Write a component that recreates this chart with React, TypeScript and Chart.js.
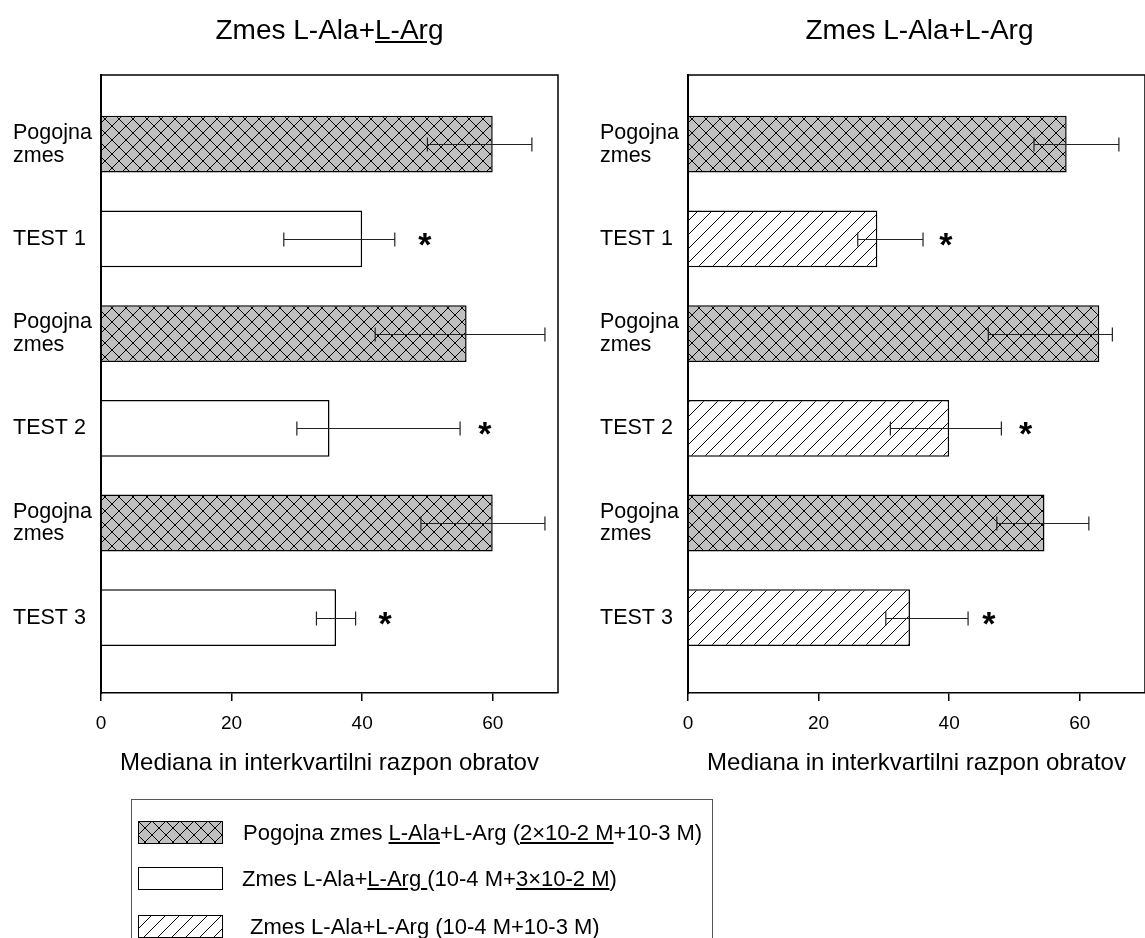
import React, { useEffect, useRef } from 'react';
import { Chart, registerables } from 'chart.js';

Chart.register(...registerables);

const FONT = "'Liberation Sans', Arial, sans-serif";

// ---- data ----
const yLabels: string[][] = [
  ['Pogojna', 'zmes'],
  ['TEST 1'],
  ['Pogojna', 'zmes'],
  ['TEST 2'],
  ['Pogojna', 'zmes'],
  ['TEST 3'],
];
const barKinds = ['control', 'test', 'control', 'test', 'control', 'test'];
const xTickValues = [0, 20, 40, 60];
const xMax = 70;
const yMin = -0.7307;
const yMax = 5.795;

const leftMedian = [60, 40, 56, 35, 60, 36];
const leftLow = [50, 28, 42, 30, 49, 33];
const leftHigh = [66, 45, 68, 55, 68, 39];
const leftStar: (number | null)[] = [null, 49.6, null, 58.8, null, 43.5];

const rightMedian = [58, 29, 63, 40, 54.6, 34];
const rightLow = [53, 26, 46, 31, 47.3, 30.3];
const rightHigh = [66, 36, 65, 48, 61.4, 42.9];
const rightStar: (number | null)[] = [null, 39.5, null, 51.7, null, 46.1];

const axisTitle = 'Mediana in interkvartilni razpon obratov';

// ---- patterns ----
function crossTile(): HTMLCanvasElement {
  const c = document.createElement('canvas');
  c.width = 14; c.height = 14;
  const g = c.getContext('2d')!;
  g.fillStyle = '#c0c0c0';
  g.fillRect(0, 0, 14, 14);
  g.strokeStyle = '#000';
  g.lineWidth = 1;
  g.beginPath();
  g.moveTo(-1, -1); g.lineTo(15, 15);
  g.moveTo(15, -1); g.lineTo(-1, 15);
  g.stroke();
  return c;
}
function hatchTile(): HTMLCanvasElement {
  const c = document.createElement('canvas');
  c.width = 14; c.height = 14;
  const g = c.getContext('2d')!;
  g.fillStyle = '#fff';
  g.fillRect(0, 0, 14, 14);
  g.strokeStyle = '#000';
  g.lineWidth = 1;
  g.beginPath();
  g.moveTo(-1, 15); g.lineTo(15, -1);
  g.moveTo(-1, 1); g.lineTo(1, -1);
  g.moveTo(13, 15); g.lineTo(15, 13);
  g.stroke();
  return c;
}
function fillFor(ctx: CanvasRenderingContext2D, kind: string) {
  if (kind === 'cross') return ctx.createPattern(crossTile(), 'repeat')!;
  if (kind === 'hatch') return ctx.createPattern(hatchTile(), 'repeat')!;
  return '#ffffff';
}

const framePlugin = {
  id: 'frame',
  afterDraw(chart: any) {
    const { ctx, chartArea } = chart;
    ctx.save();
    ctx.strokeStyle = '#000';
    ctx.lineWidth = 1.5;
    ctx.beginPath();
    ctx.moveTo(chartArea.left, chartArea.top);
    ctx.lineTo(chartArea.right, chartArea.top);
    ctx.lineTo(chartArea.right, chartArea.bottom);
    ctx.stroke();
    ctx.restore();
  },
};

function errorPlugin(low: number[], high: number[], star: (number | null)[]) {
  return {
    id: 'errbars',
    afterDatasetsDraw(chart: any) {
      const { ctx } = chart;
      const xs = chart.scales.x;
      const ys = chart.scales.y;
      ctx.save();
      ctx.strokeStyle = '#222';
      ctx.lineWidth = 1.2;
      for (let i = 0; i < low.length; i++) {
        const y = Math.round(ys.getPixelForValue(i)) + 0.5;
        const x1 = xs.getPixelForValue(low[i]);
        const x2 = xs.getPixelForValue(high[i]);
        ctx.beginPath();
        ctx.moveTo(x1, y); ctx.lineTo(x2, y);
        ctx.moveTo(x1, y - 7); ctx.lineTo(x1, y + 7);
        ctx.moveTo(x2, y - 7); ctx.lineTo(x2, y + 7);
        ctx.stroke();
        const s = star[i];
        if (s !== null && s !== undefined) {
          ctx.fillStyle = '#000';
          ctx.font = `bold 34px ${FONT}`;
          ctx.textAlign = 'center';
          ctx.textBaseline = 'alphabetic';
          ctx.fillText('*', xs.getPixelForValue(s), y + 16);
        }
      }
      ctx.restore();
    },
  };
}

function makeChart(
  canvas: HTMLCanvasElement,
  median: number[],
  low: number[],
  high: number[],
  star: (number | null)[],
  testFill: string
) {
  const ctx = canvas.getContext('2d')!;
  const bg = barKinds.map((k) => fillFor(ctx, k === 'control' ? 'cross' : testFill));
  return new Chart(canvas, {
    type: 'bar',
    data: {
      datasets: [
        {
          data: median.map((v, i) => ({ x: v, y: i })) as any,
          backgroundColor: bg as any,
          borderColor: '#000',
          borderWidth: 1.5,
          barPercentage: 0.6,
          categoryPercentage: 1,
        },
      ],
    },
    options: {
      indexAxis: 'y',
      animation: false,
      responsive: false,
      events: [],
      layout: { padding: { left: 13, right: 17, top: 75, bottom: 0 } },
      plugins: {
        legend: { display: false },
        tooltip: { enabled: false },
        title: { display: false },
      },
      scales: {
        x: {
          type: 'linear',
          position: 'bottom',
          min: 0,
          max: xMax,
          offset: false,
          afterBuildTicks: (a: any) => {
            a.ticks = xTickValues.map((v) => ({ value: v }));
          },
          afterFit: (s: any) => {
            s.height = 107;
          },
          ticks: { font: { family: FONT, size: 19 }, color: '#000', padding: 11 },
          grid: {
            drawOnChartArea: false,
            drawTicks: true,
            tickLength: 8,
            color: '#000',
            lineWidth: 1.5,
          },
          border: { display: true, color: '#000', width: 1.5 },
          title: {
            display: true,
            text: axisTitle,
            font: { family: FONT, size: 24 },
            color: '#000',
            padding: { top: 0, bottom: 22 },
          },
        },
        y: {
          type: 'linear',
          position: 'left',
          reverse: true,
          offset: false,
          grace: 0,
          min: yMin,
          max: yMax,
          afterDataLimits: (s: any) => {
            s.min = yMin;
            s.max = yMax;
          },
          afterBuildTicks: (a: any) => {
            a.ticks = yLabels.map((_, i) => ({ value: i }));
          },
          afterFit: (s: any) => {
            s.width = 88;
          },
          ticks: {
            callback: (v: any) => yLabels[v] ?? '',
            font: { family: FONT, size: 21.5, lineHeight: 1.06 },
            color: '#000',
            crossAlign: 'far',
            autoSkip: false,
            padding: 8,
          },
          grid: { display: false, drawTicks: false, offset: false },
          border: { display: true, color: '#000', width: 2 },
        },
      },
    } as any,
    plugins: [framePlugin, errorPlugin(low, high, star)],
  });
}

function Swatch({ kind, left, top }: { kind: string; left: number; top: number }) {
  const ref = useRef<HTMLCanvasElement>(null);
  useEffect(() => {
    const c = ref.current!;
    const g = c.getContext('2d')!;
    g.fillStyle = fillFor(g, kind) as any;
    g.fillRect(0, 0, c.width, c.height);
    g.strokeStyle = '#000';
    g.lineWidth = 1;
    g.strokeRect(0.5, 0.5, c.width - 1, c.height - 1);
  }, [kind]);
  return (
    <canvas
      ref={ref}
      width={85}
      height={23}
      style={{ position: 'absolute', left, top, width: 85, height: 23 }}
    />
  );
}

const legendText: React.CSSProperties = {
  position: 'absolute',
  fontFamily: FONT,
  fontSize: 22,
  lineHeight: '24px',
  whiteSpace: 'nowrap',
  color: '#000',
};

export default function App() {
  const leftRef = useRef<HTMLCanvasElement>(null);
  const rightRef = useRef<HTMLCanvasElement>(null);

  useEffect(() => {
    const a = makeChart(leftRef.current!, leftMedian, leftLow, leftHigh, leftStar, 'white');
    const b = makeChart(rightRef.current!, rightMedian, rightLow, rightHigh, rightStar, 'hatch');
    return () => {
      a.destroy();
      b.destroy();
    };
  }, []);

  const titleStyle: React.CSSProperties = {
    position: 'absolute',
    top: 16,
    fontFamily: FONT,
    fontSize: 28,
    lineHeight: '28px',
    textAlign: 'center',
    color: '#000',
    whiteSpace: 'nowrap',
  };

  return (
    <div
      style={{
        position: 'fixed',
        left: 0,
        top: 0,
        width: 1145,
        height: 938,
        overflow: 'hidden',
        background: '#fff',
      }}
    >
      <canvas
        ref={leftRef}
        width={575}
        height={800}
        style={{ position: 'absolute', left: 0, top: 0, width: 575, height: 800 }}
      />
      <canvas
        ref={rightRef}
        width={575}
        height={800}
        style={{ position: 'absolute', left: 587, top: 0, width: 575, height: 800 }}
      />
      <div style={{ ...titleStyle, left: 0, width: 659 }}>
        Zmes L-Ala+<span style={{ textDecoration: 'underline' }}>L-Arg</span>
      </div>
      <div style={{ ...titleStyle, left: 587, width: 665 }}>Zmes L-Ala+L-Arg</div>

      <div
        style={{
          position: 'absolute',
          left: 131,
          top: 799,
          width: 582,
          height: 200,
          border: '1px solid #555',
          boxSizing: 'border-box',
        }}
      />
      <Swatch kind="cross" left={138} top={821} />
      <Swatch kind="white" left={138} top={867} />
      <Swatch kind="hatch" left={138} top={915} />
      <div style={{ ...legendText, left: 243, top: 821 }}>
        Pogojna zmes <span style={{ textDecoration: 'underline' }}>L-Ala</span>+L-Arg (
        <span style={{ textDecoration: 'underline' }}>2×10-2 M</span>+10-3 M)
      </div>
      <div style={{ ...legendText, left: 242, top: 867 }}>
        Zmes L-Ala+<span style={{ textDecoration: 'underline' }}>L-Arg </span>(10-4 M+
        <span style={{ textDecoration: 'underline' }}>3×10-2 M</span>)
      </div>
      <div style={{ ...legendText, left: 250, top: 915 }}>Zmes L-Ala+L-Arg (10-4 M+10-3 M)</div>
    </div>
  );
}
